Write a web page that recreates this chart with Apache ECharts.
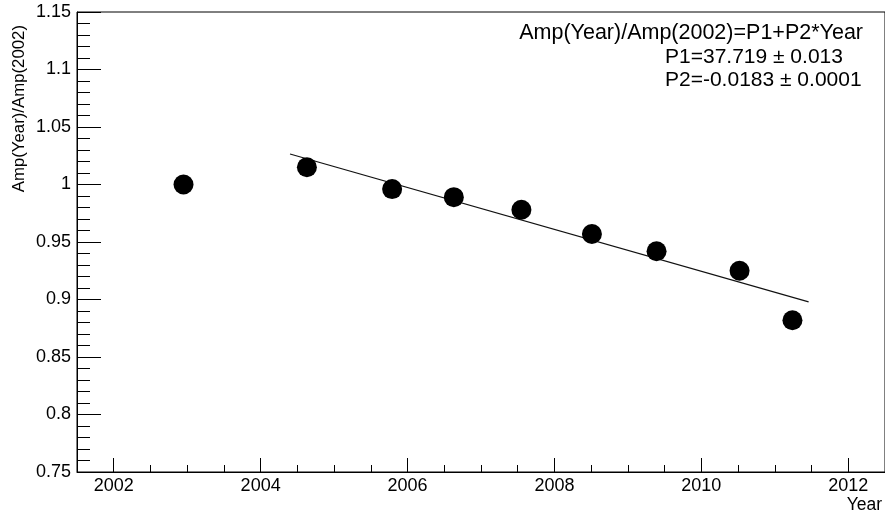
<!DOCTYPE html>
<html>
<head>
<meta charset="utf-8">
<script src="https://cdn.jsdelivr.net/npm/echarts@6/dist/echarts.min.js"></script>
<style>
  html, body { margin: 0; padding: 0; background: #fff; }
  #chart { width: 885px; height: 516px; }
</style>
</head>
<body>
<div id="chart"></div>
<script>
// data
var years = [2002.95, 2004.63, 2005.79, 2006.63, 2007.55, 2008.51, 2009.39, 2010.52, 2011.24];
var ratios = [1.000, 1.015, 0.996, 0.989, 0.978, 0.957, 0.942, 0.925, 0.882];
// fitted line, end points
var fitYears = [2004.40, 2011.46];
var fitRatios = [1.0265, 0.898];
// axis ticks
var majorYears = [2002, 2004, 2006, 2008, 2010, 2012];
var minorYears = [2001.5, 2002.5, 2003, 2003.5, 2004.5, 2005, 2005.5, 2006.5, 2007, 2007.5,
  2008.5, 2009, 2009.5, 2010.5, 2011, 2011.5, 2012.5];

var font = '"Liberation Sans", Arial, Helvetica, sans-serif';

var myChart = echarts.init(document.getElementById('chart'));

var option = {
  animation: false,
  grid: {
    left: 77, right: 0, top: 12, bottom: 44,
    show: true, borderColor: '#000', borderWidth: 1,
    outerBoundsMode: 'none'
  },
  xAxis: [{
    type: 'value',
    min: 2001.5,
    max: 2012.5,
    axisLine: { lineStyle: { color: '#000', width: 1 } },
    axisTick: { inside: true, length: 14, customValues: majorYears, lineStyle: { color: '#000' } },
    axisLabel: {
      customValues: majorYears, color: '#000', fontSize: 18, fontFamily: font, margin: 5,
      formatter: function (v) { return String(v); }
    },
    splitLine: { show: false }
  }, {
    type: 'value',
    position: 'bottom',
    min: 2001.5,
    max: 2012.5,
    axisLine: { show: false },
    axisTick: { inside: true, length: 7, customValues: minorYears, lineStyle: { color: '#000' } },
    axisLabel: { show: false },
    splitLine: { show: false }
  }],
  yAxis: {
    type: 'value',
    min: 0.75,
    max: 1.15,
    interval: 0.05,
    axisLine: { show: true, lineStyle: { color: '#000', width: 1 } },
    axisTick: { show: true, inside: true, length: 24, lineStyle: { color: '#000' } },
    minorTick: { show: true, splitNumber: 5, length: 13, lineStyle: { color: '#000' } },
    axisLabel: { color: '#000', fontSize: 18, fontFamily: font, margin: 6 },
    splitLine: { show: false }
  },
  graphic: [
    { type: 'text', x: 19.5, y: 25, rotation: Math.PI / 2,
      style: { text: 'Amp(Year)/Amp(2002)', fill: '#000', font: '16.8px ' + font, align: 'right', verticalAlign: 'middle' } },
    { type: 'text', x: 882, y: 505,
      style: { text: 'Year', fill: '#000', font: '17.5px ' + font, align: 'right', verticalAlign: 'middle' } },
    { type: 'text', x: 863, y: 33,
      style: { text: 'Amp(Year)/Amp(2002)=P1+P2*Year', fill: '#000', font: '21.5px ' + font, align: 'right', verticalAlign: 'middle' } },
    { type: 'text', x: 665, y: 57,
      style: { text: 'P1=37.719 \u00b1 0.013', fill: '#000', font: '21px ' + font, align: 'left', verticalAlign: 'middle' } },
    { type: 'text', x: 665, y: 80,
      style: { text: 'P2=-0.0183 \u00b1 0.0001', fill: '#000', font: '21px ' + font, align: 'left', verticalAlign: 'middle' } }
  ],
  series: [{
    name: 'fit',
    type: 'line',
    data: fitYears.map(function (x, i) { return [x, fitRatios[i]]; }),
    symbol: 'none',
    lineStyle: { color: '#111', width: 1.2 },
    z: 2
  }, {
    name: 'Amp',
    type: 'scatter',
    data: years.map(function (x, i) { return [x, ratios[i]]; }),
    symbol: 'circle',
    symbolSize: 20,
    itemStyle: { color: '#000', opacity: 1 },
    z: 3
  }]
};

myChart.setOption(option);
</script>
</body>
</html>
